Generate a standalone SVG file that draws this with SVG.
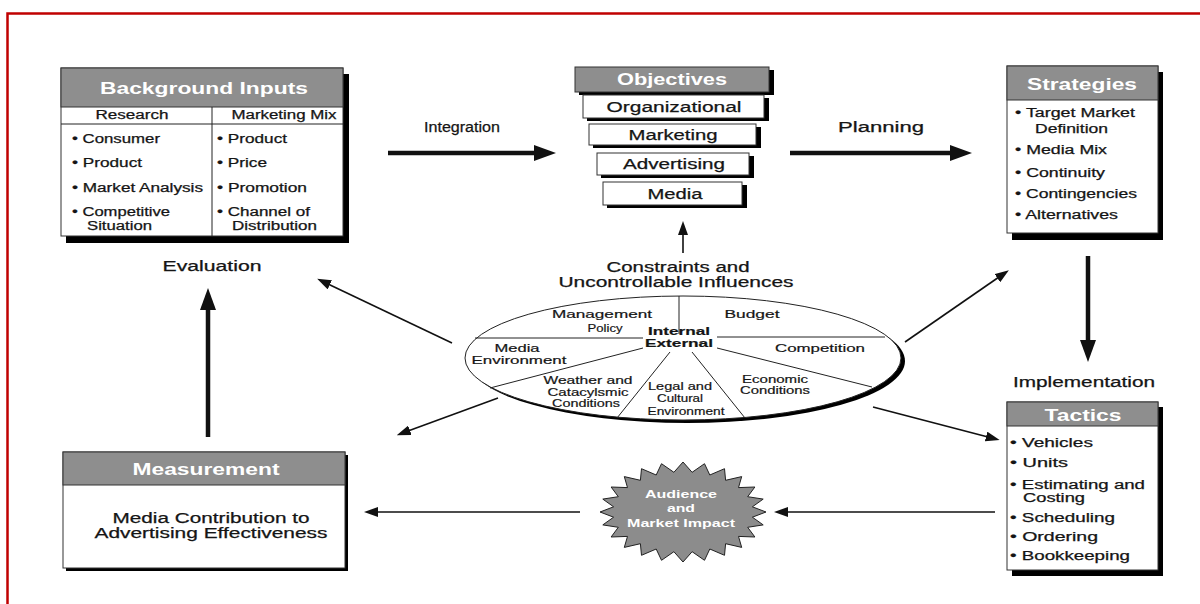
<svg xmlns="http://www.w3.org/2000/svg" width="1200" height="604" viewBox="0 0 1200 604">
<defs>
<style>
text{font-family:"Liberation Sans",Arial,sans-serif;fill:#151515}
.hd{font-weight:bold;font-size:17px;fill:#fff;text-anchor:middle}
.b{font-size:12px;stroke:#151515;stroke-width:0.25}
.m{text-anchor:middle}
.s{font-size:11px;stroke:#151515;stroke-width:0.2}
.lb{font-size:14px;stroke:#151515;stroke-width:0.25}
.w{font-weight:bold;fill:#fff;stroke:none}
.box{fill:#fff;stroke:#333;stroke-width:1}
.hdr{fill:#8e8e8e;stroke:#333;stroke-width:1}
.sh{fill:#000}
.thin{stroke:#111;stroke-width:1.6;fill:none}
.thick{stroke:#111;stroke-width:4.5;fill:none}
.in{stroke:#222;stroke-width:1;fill:none}
</style>
<marker id="big" markerUnits="userSpaceOnUse" markerWidth="22" markerHeight="16" refX="2" refY="8" orient="auto">
<path d="M0,0 L22,8 L0,16 z" fill="#111"/>
</marker>
<marker id="sm" markerUnits="userSpaceOnUse" markerWidth="14" markerHeight="10" refX="2" refY="5" orient="auto">
<path d="M0,0 L14,5 L0,10 z" fill="#111"/>
</marker>
</defs>
<rect x="0" y="0" width="1200" height="604" fill="#fff"/>
<rect x="7.5" y="13.5" width="1200" height="600" fill="none" stroke="#c00000" stroke-width="2.5"/>

<g id="connectors">
<line class="thick" x1="388" y1="153" x2="536" y2="153" marker-end="url(#big)"/>
<line class="thick" x1="790" y1="153" x2="952" y2="153" marker-end="url(#big)"/>
<line class="thin" x1="683" y1="253" x2="683" y2="233" marker-end="url(#sm)"/>
<line class="thick" x1="1088" y1="256" x2="1088" y2="342" stroke-width="5" marker-end="url(#big)"/>
<line class="thick" x1="208" y1="437" x2="208" y2="308" stroke-width="6" marker-end="url(#big)"/>
<line class="thin" x1="995" y1="512" x2="786" y2="512" marker-end="url(#sm)"/>
<line class="thin" x1="580" y1="512" x2="376" y2="512" marker-end="url(#sm)"/>
<line class="thin" x1="452" y1="343" x2="328" y2="284" marker-end="url(#sm)"/>
<line class="thin" x1="905" y1="342" x2="999" y2="277" marker-end="url(#sm)"/>
<line class="thin" x1="498" y1="398" x2="408" y2="431" marker-end="url(#sm)"/>
<line class="thin" x1="873" y1="407" x2="988" y2="437" marker-end="url(#sm)"/>
<text class="lb m" x="462" y="132" textLength="76" lengthAdjust="spacingAndGlyphs">Integration</text>
<text class="lb m" x="881" y="132" textLength="86" lengthAdjust="spacingAndGlyphs">Planning</text>
<text class="lb m" x="1084" y="387" textLength="142" lengthAdjust="spacingAndGlyphs">Implementation</text>
<text class="lb m" x="212" y="271" textLength="99" lengthAdjust="spacingAndGlyphs">Evaluation</text>
</g>

<g id="background-inputs">
<rect class="sh" x="66" y="74" width="283" height="169"/>
<rect class="box" x="61" y="68" width="282" height="168"/>
<rect class="hdr" x="61" y="68" width="282" height="39"/>
<line class="in" x1="61" y1="124" x2="343" y2="124"/>
<line class="in" x1="212" y1="107" x2="212" y2="236"/>
<text class="hd" x="204" y="94" textLength="208" lengthAdjust="spacingAndGlyphs">Background Inputs</text>
<text class="b m" x="132" y="119" textLength="73" lengthAdjust="spacingAndGlyphs">Research</text>
<text class="b m" x="284" y="119" textLength="105" lengthAdjust="spacingAndGlyphs">Marketing Mix</text>
<text class="b" x="72" y="143" textLength="88" lengthAdjust="spacingAndGlyphs">• Consumer</text>
<text class="b" x="72" y="167" textLength="70" lengthAdjust="spacingAndGlyphs">• Product</text>
<text class="b" x="72" y="192" textLength="131" lengthAdjust="spacingAndGlyphs">• Market Analysis</text>
<text class="b" x="72" y="216" textLength="98" lengthAdjust="spacingAndGlyphs">• Competitive</text>
<text class="b" x="87" y="230" textLength="65" lengthAdjust="spacingAndGlyphs">Situation</text>
<text class="b" x="217" y="143" textLength="70" lengthAdjust="spacingAndGlyphs">• Product</text>
<text class="b" x="217" y="167" textLength="50" lengthAdjust="spacingAndGlyphs">• Price</text>
<text class="b" x="217" y="192" textLength="90" lengthAdjust="spacingAndGlyphs">• Promotion</text>
<text class="b" x="217" y="216" textLength="93" lengthAdjust="spacingAndGlyphs">• Channel of</text>
<text class="b" x="232" y="230" textLength="85" lengthAdjust="spacingAndGlyphs">Distribution</text>
</g>

<g id="objectives">
<rect class="sh" x="579" y="70" width="195" height="25"/>
<rect class="hdr" x="575" y="67" width="194" height="25"/>
<text class="hd" x="672" y="85" textLength="110" lengthAdjust="spacingAndGlyphs">Objectives</text>
<rect class="sh" x="587" y="98" width="182" height="23"/>
<rect class="box" x="583" y="95" width="181" height="23"/>
<text class="lb m" x="674" y="112" textLength="135" lengthAdjust="spacingAndGlyphs">Organizational</text>
<rect class="sh" x="593" y="127" width="168" height="21"/>
<rect class="box" x="589" y="124" width="167" height="21"/>
<text class="lb m" x="673" y="140" textLength="89" lengthAdjust="spacingAndGlyphs">Marketing</text>
<rect class="sh" x="601" y="156" width="153" height="22"/>
<rect class="box" x="597" y="153" width="152" height="22"/>
<text class="lb m" x="674" y="169" textLength="102" lengthAdjust="spacingAndGlyphs">Advertising</text>
<rect class="sh" x="607" y="185" width="140" height="23"/>
<rect class="box" x="603" y="182" width="139" height="23"/>
<text class="lb m" x="675" y="199" textLength="55" lengthAdjust="spacingAndGlyphs">Media</text>
</g>

<g id="strategies">
<rect class="sh" x="1012" y="72" width="151" height="168"/>
<rect class="box" x="1007" y="66" width="151" height="167"/>
<rect class="hdr" x="1007" y="66" width="151" height="34"/>
<text class="hd" x="1082" y="90" textLength="110" lengthAdjust="spacingAndGlyphs">Strategies</text>
<text class="b" x="1015" y="117" textLength="120" lengthAdjust="spacingAndGlyphs">• Target Market</text>
<text class="b" x="1035" y="133" textLength="73" lengthAdjust="spacingAndGlyphs">Definition</text>
<text class="b" x="1015" y="154" textLength="92" lengthAdjust="spacingAndGlyphs">• Media Mix</text>
<text class="b" x="1015" y="177" textLength="90" lengthAdjust="spacingAndGlyphs">• Continuity</text>
<text class="b" x="1015" y="198" textLength="122" lengthAdjust="spacingAndGlyphs">• Contingencies</text>
<text class="b" x="1015" y="219" textLength="103" lengthAdjust="spacingAndGlyphs">• Alternatives</text>
</g>

<g id="tactics">
<rect class="sh" x="1012" y="407" width="151" height="169"/>
<rect class="box" x="1007" y="402" width="151" height="168"/>
<rect class="hdr" x="1007" y="402" width="151" height="24"/>
<text class="hd" x="1083" y="421" textLength="77" lengthAdjust="spacingAndGlyphs">Tactics</text>
<text class="b" x="1010" y="447" textLength="83" lengthAdjust="spacingAndGlyphs">• Vehicles</text>
<text class="b" x="1010" y="467" textLength="58" lengthAdjust="spacingAndGlyphs">• Units</text>
<text class="b" x="1010" y="489" textLength="135" lengthAdjust="spacingAndGlyphs">• Estimating and</text>
<text class="b" x="1023" y="502" textLength="62" lengthAdjust="spacingAndGlyphs">Costing</text>
<text class="b" x="1010" y="522" textLength="105" lengthAdjust="spacingAndGlyphs">• Scheduling</text>
<text class="b" x="1010" y="541" textLength="88" lengthAdjust="spacingAndGlyphs">• Ordering</text>
<text class="b" x="1010" y="560" textLength="120" lengthAdjust="spacingAndGlyphs">• Bookkeeping</text>
</g>

<g id="measurement">
<rect class="sh" x="66" y="455" width="282" height="116"/>
<rect class="box" x="63" y="452" width="282" height="116"/>
<rect class="hdr" x="63" y="452" width="282" height="33"/>
<text class="hd" x="206" y="475" textLength="147" lengthAdjust="spacingAndGlyphs">Measurement</text>
<text class="lb m" x="211" y="523" textLength="197" lengthAdjust="spacingAndGlyphs">Media Contribution to</text>
<text class="lb m" x="211" y="538" textLength="233" lengthAdjust="spacingAndGlyphs">Advertising Effectiveness</text>
</g>

<g id="audience-impact">
<polygon fill="#8c8c8c" stroke="#222" stroke-width="1" points="766,512 752.4,517.2 763.2,524.9 747.7,527.3 754.9,537 738.5,536.4 741.7,547.4 725.6,543.7 724.5,555.3 709.8,549 704.5,560.3 692.1,551.7 683,562 673.9,551.7 661.5,560.3 656.2,549 641.5,555.3 640.4,543.7 624.3,547.4 627.5,536.4 611.1,537 618.3,527.3 602.8,524.9 613.6,517.2 600,512 613.6,506.8 602.8,499.1 618.3,496.7 611.1,487 627.5,487.6 624.3,476.6 640.4,480.3 641.5,468.7 656.2,475 661.5,463.7 673.9,472.3 683,462 692.1,472.3 704.5,463.7 709.8,475 724.5,468.7 725.6,480.3 741.7,476.6 738.5,487.6 754.9,487 747.7,496.7 763.2,499.1 752.4,506.8"/>
<text class="s m w" x="681" y="498" textLength="72" lengthAdjust="spacingAndGlyphs">Audience</text>
<text class="s m w" x="681" y="512" textLength="28" lengthAdjust="spacingAndGlyphs">and</text>
<text class="s m w" x="681" y="527" textLength="108" lengthAdjust="spacingAndGlyphs">Market Impact</text>
</g>

<g id="constraints">
<text class="lb m" x="678" y="272" textLength="143" lengthAdjust="spacingAndGlyphs">Constraints and</text>
<text class="lb m" x="676" y="287" textLength="235" lengthAdjust="spacingAndGlyphs">Uncontrollable Influences</text>
<ellipse cx="687" cy="361" rx="218" ry="62" fill="#000"/>
<ellipse cx="683" cy="358" rx="218" ry="62" fill="#fff" stroke="#222" stroke-width="1"/>
<line class="in" x1="679" y1="296" x2="679" y2="334"/>
<line class="in" x1="475" y1="338" x2="643" y2="338"/>
<line class="in" x1="717" y1="337" x2="885" y2="337"/>
<line class="in" x1="643" y1="348" x2="490" y2="388"/>
<line class="in" x1="670" y1="352" x2="617" y2="418"/>
<line class="in" x1="692" y1="352" x2="745" y2="418"/>
<line class="in" x1="717" y1="348" x2="872" y2="387"/>
<text class="s m" x="602" y="318" textLength="100" lengthAdjust="spacingAndGlyphs">Management</text>
<text class="s m" x="605" y="332" textLength="35" lengthAdjust="spacingAndGlyphs">Policy</text>
<text class="s m" x="752" y="318" textLength="55" lengthAdjust="spacingAndGlyphs">Budget</text>
<text class="s m" x="679" y="335" font-weight="bold" textLength="62" lengthAdjust="spacingAndGlyphs">Internal</text>
<text class="s m" x="679" y="347" font-weight="bold" textLength="68" lengthAdjust="spacingAndGlyphs">External</text>
<text class="s m" x="517" y="352" textLength="45" lengthAdjust="spacingAndGlyphs">Media</text>
<text class="s m" x="519" y="364" textLength="95" lengthAdjust="spacingAndGlyphs">Environment</text>
<text class="s m" x="820" y="352" textLength="90" lengthAdjust="spacingAndGlyphs">Competition</text>
<text class="s m" x="588" y="384" textLength="89" lengthAdjust="spacingAndGlyphs">Weather and</text>
<text class="s m" x="588" y="396" textLength="81" lengthAdjust="spacingAndGlyphs">Catacylsmic</text>
<text class="s m" x="586" y="407" textLength="68" lengthAdjust="spacingAndGlyphs">Conditions</text>
<text class="s m" x="680" y="390" textLength="64" lengthAdjust="spacingAndGlyphs">Legal and</text>
<text class="s m" x="680" y="402" textLength="46" lengthAdjust="spacingAndGlyphs">Cultural</text>
<text class="s m" x="686" y="415" textLength="77" lengthAdjust="spacingAndGlyphs">Environment</text>
<text class="s m" x="775" y="383" textLength="66" lengthAdjust="spacingAndGlyphs">Economic</text>
<text class="s m" x="775" y="394" textLength="70" lengthAdjust="spacingAndGlyphs">Conditions</text>
</g>
</svg>
